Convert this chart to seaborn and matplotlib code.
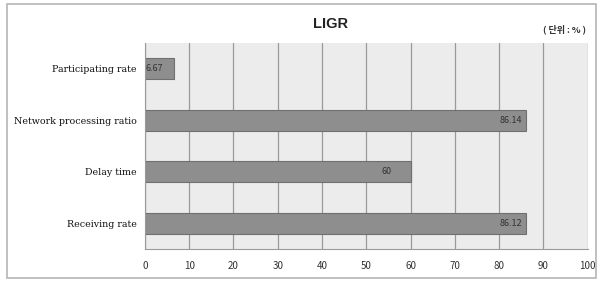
import matplotlib
matplotlib.use("Agg")
import matplotlib.pyplot as plt
import seaborn as sns
import pandas as pd
from matplotlib.patches import Rectangle

# data
categories = ["Participating rate", "Network processing ratio", "Delay time", "Receiving rate"]
values = [6.67, 86.14, 60, 86.12]
value_labels = ["6.67", "86.14", "60", "86.12"]
x_ticks = [0, 10, 20, 30, 40, 50, 60, 70, 80, 90, 100]

df = pd.DataFrame({"metric": categories, "value": values})

sns.set_style("white")
plt.rcParams["font.family"] = ["Noto Sans CJK KR", "DejaVu Sans"]

fig = plt.figure(figsize=(6.01, 2.81), dpi=100)
fig.patch.set_facecolor("white")

# outer frame of the chart
fig.patches.append(Rectangle((0.012, 0.012), 0.98, 0.975, transform=fig.transFigure,
                             fill=False, edgecolor="#b5b5b5", linewidth=1.2))

ax = fig.add_axes([0.241, 0.114, 0.737, 0.733])
ax.set_facecolor("#ececec")

sns.barplot(data=df, y="metric", x="value", orient="h", ax=ax,
            color="#8e8e8e", edgecolor="#6f6f6f", linewidth=0.8, width=0.4,
            saturation=1)

ax.set_xlim(0, 100)
ax.set_xticks(x_ticks)
ax.xaxis.grid(True, color="#9a9a9a", linewidth=0.9)
ax.set_axisbelow(True)
for s in ["top", "right"]:
    ax.spines[s].set_visible(False)
ax.spines["left"].set_color("#9a9a9a")
ax.spines["bottom"].set_color("#9a9a9a")

ax.set_xlabel("")
ax.set_ylabel("")
ax.tick_params(axis="x", labelsize=7, colors="#333333", length=3, pad=6)
ax.tick_params(axis="y", labelsize=7, colors="#111111", length=3, pad=3)
for t in ax.get_yticklabels():
    t.set_fontfamily(["DejaVu Serif"])
    t.set_fontsize(6.8)

for i, (v, lab) in enumerate(zip(values, value_labels)):
    off = -3 if v > 70 else (-14 if v > 10 else -8)
    ax.annotate(lab, xy=(v, i), xytext=(off, 0), textcoords="offset points",
                ha="right", va="center", fontsize=6.5, color="#333333")

fig.text(0.55, 0.915, "LIGR", ha="center", va="center", fontsize=10.5,
         fontweight="bold", color="#222222", family=["Liberation Sans", "DejaVu Sans"])
fig.text(0.975, 0.895, "( 단위 : % )", ha="right", va="center", fontsize=6.5,
         fontweight="bold", color="#333333")

fig.savefig("out.png", dpi=100)
